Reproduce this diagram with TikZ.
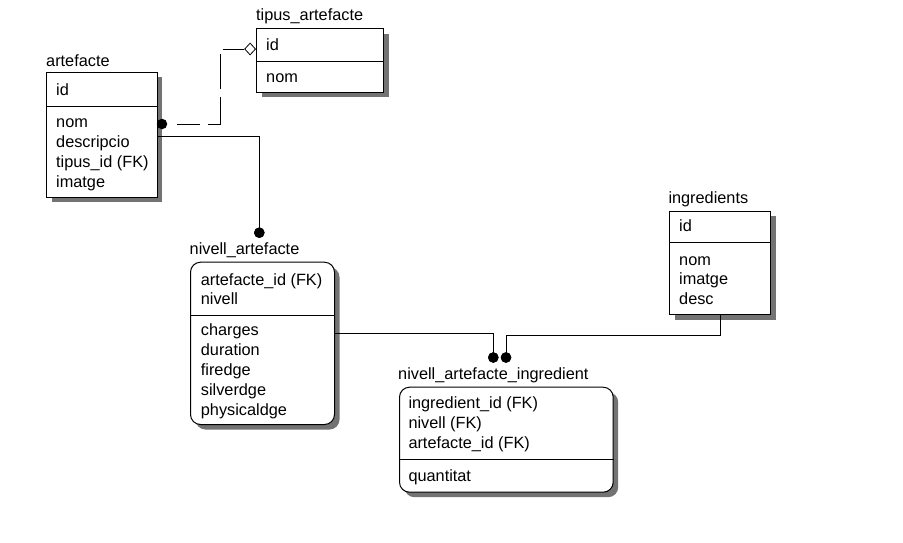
\documentclass[tikz,border=0pt]{standalone}
\usepackage{fontspec}
\setmainfont{Liberation Sans}
\usetikzlibrary{shadows,shapes.geometric}
\tikzset{
  tbl/.style={draw=black, line width=1pt, fill=white, inner sep=0pt, anchor=north west,
    drop shadow={shadow xshift=5pt, shadow yshift=-5pt, fill=black!55, opacity=1}},
  rtbl/.style={tbl, rounded corners=10pt},
  ttl/.style={anchor=base west, inner sep=0pt, font=\fontsize{16.3}{19}\selectfont},
  fld/.style={anchor=base west, inner sep=0pt, font=\fontsize{16.3}{19}\selectfont},
  conn/.style={draw=black, line width=1pt},
  dconn/.style={conn, dash pattern=on 0pt off 19.7pt on 22.6pt off 8pt on 38.7pt off 8pt on 35pt off 8pt on 30pt},
  dot/.style={circle, fill=black, inner sep=0pt, minimum size=10.5pt},
  odiam/.style={diamond, draw=black, fill=white, line width=0.8pt, inner sep=0pt, minimum width=11pt, minimum height=12pt}
}
\begin{document}
\begin{tikzpicture}[x=1pt,y=-1pt]
\useasboundingbox (0,0) rectangle (903,542);
\fill[white] (0,0) rectangle (903,542);

% ---- artefacte
\node[ttl] (artefacte-t) at (46,66.5) {artefacte};
\node[tbl, minimum width=110.7pt, minimum height=125pt] (artefacte) at (46,71.7) {};
\draw[conn] (artefacte.west |- 0,106) -- (artefacte.east |- 0,106);
\node[fld] (a1) at (56,95) {id};
\node[fld] (a2) at (56,127) {nom};
\node[fld] (a3) at (56,147) {descripcio};
\node[fld] (a4) at (56,167) {tipus\_id (FK)};
\node[fld] (a5) at (56,187) {imatge};

% ---- tipus_artefacte
\node[ttl] (tipus-t) at (256,20) {tipus\_artefacte};
\node[tbl, minimum width=127.3pt, minimum height=63.4pt] (tipus) at (256,28.3) {};
\draw[conn] (tipus.west |- 0,61) -- (tipus.east |- 0,61);
\node[fld] (t1) at (266,50) {id};
\node[fld] (t2) at (266,82.5) {nom};

% ---- nivell_artefacte
\node[ttl] (niv-t) at (189.5,254) {nivell\_artefacte};
\node[rtbl, minimum width=144pt, minimum height=162.3pt] (niv) at (190,261.7) {};
\draw[conn] (niv.west |- 0,315) -- (niv.east |- 0,315);
\node[fld] (n1) at (200.7,285.7) {artefacte\_id (FK)};
\node[fld] (n2) at (200.7,304) {nivell};
\node[fld] (n3) at (200.7,335.5) {charges};
\node[fld] (n4) at (200.7,355) {duration};
\node[fld] (n5) at (200.7,375) {firedge};
\node[fld] (n6) at (200.7,395) {silverdge};
\node[fld] (n7) at (200.7,415) {physicaldge};

% ---- ingredients
\node[ttl] (ing-t) at (668.3,203.3) {ingredients};
\node[tbl, minimum width=101pt, minimum height=103.3pt] (ing) at (669,210.7) {};
\draw[conn] (ing.west |- 0,242.7) -- (ing.east |- 0,242.7);
\node[fld] (i1) at (679,231.7) {id};
\node[fld] (i2) at (679,265) {nom};
\node[fld] (i3) at (679,284.5) {imatge};
\node[fld] (i4) at (679,304) {desc};

% ---- nivell_artefacte_ingredient
\node[ttl] (nai-t) at (398,379.3) {nivell\_artefacte\_ingredient};
\node[rtbl, minimum width=213.7pt, minimum height=105pt] (nai) at (399,386.7) {};
\draw[conn] (nai.west |- 0,459.3) -- (nai.east |- 0,459.3);
\node[fld] (x1) at (408.3,408.3) {ingredient\_id (FK)};
\node[fld] (x2) at (408.3,428.3) {nivell (FK)};
\node[fld] (x3) at (408.3,448.3) {artefacte\_id (FK)};
\node[fld] (x4) at (408.3,481) {quantitat};

% ---- connectors
% artefacte -> tipus_artefacte (dashed, non-identifying)
\coordinate (c1s) at (artefacte.east |- 0,124);
\coordinate (c1a) at (220,124);
\coordinate (c1b) at (220,49);
\node[odiam, anchor=east] (dm) at (tipus.west |- 0,49) {};
\draw[dconn] (c1s) -- (c1a) -- (c1b) -- (dm.west);
\node[dot] (d1) at (162,124) {};

% artefacte -> nivell_artefacte
\coordinate (c2s) at (artefacte.east |- 0,136);
\node[dot] (d2) at (259.3,232.7) {};
\draw[conn] (c2s) -| (d2.center);
\node[dot] at (d2) {};

% nivell_artefacte -> nivell_artefacte_ingredient
\coordinate (c3s) at (niv.east |- 0,333);
\node[dot] (d3) at (493.3,357.5) {};
\draw[conn] (c3s) -| (d3.center);

% ingredients -> nivell_artefacte_ingredient
\coordinate (c4s) at (ing.south);
\coordinate (c4a) at (ing.south |- 0,335);
\node[dot] (d4) at (506,357.5) {};
\draw[conn] (c4s) -- (c4a) -| (d4.center);
\node[dot] at (d3) {};
\node[dot] at (d4) {};
\end{tikzpicture}
\end{document}
